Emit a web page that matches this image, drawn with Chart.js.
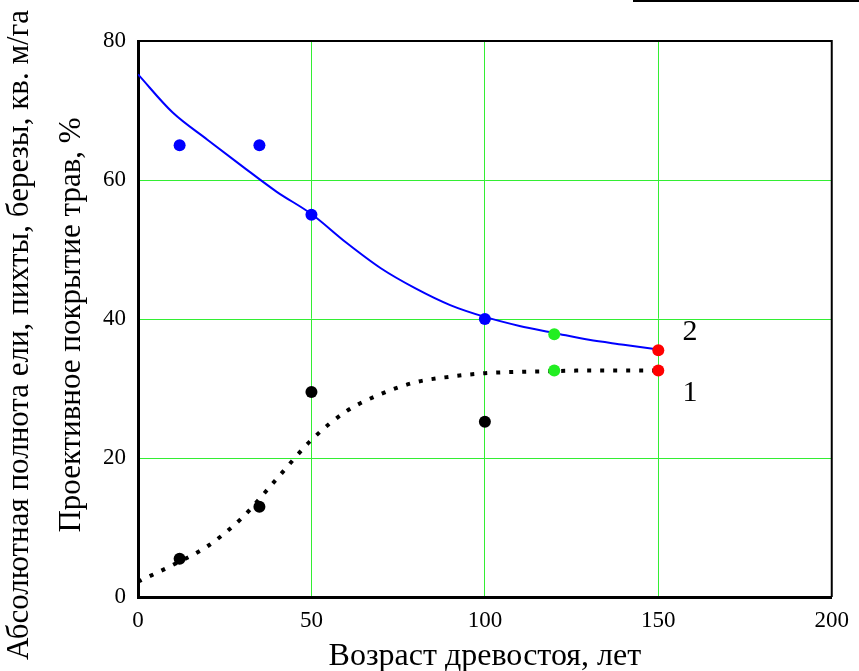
<!DOCTYPE html>
<html>
<head>
<meta charset="utf-8">
<script src="https://cdn.jsdelivr.net/npm/chart.js@4/dist/chart.umd.min.js"></script>
<style>
  html, body { margin: 0; padding: 0; background: #fff; }
  #wrap { width: 859px; height: 671px; position: relative; }
</style>
</head>
<body>
<div id="wrap"><canvas id="chart" width="859" height="671"></canvas></div>
<script>
// chart data
const xTicks = [0, 50, 100, 150, 200];
const yTicks = [0, 20, 40, 60, 80];

// fitted curves (age, value)
const curveAges = [0, 10, 20, 30, 40, 50, 60, 70, 80, 90, 100, 110, 120, 130, 140, 150];
const herbCurve = [75.2, 69.7, 65.8, 62.0, 58.3, 55.1, 51.0, 47.3, 44.4, 42.0, 40.3, 39.0, 38.0, 37.0, 36.3, 35.6];   // 2, blue
const basalCurve = [2.2, 4.6, 7.3, 11.4, 17.0, 22.6, 26.7, 29.2, 30.9, 31.7, 32.2, 32.4, 32.5, 32.6, 32.6, 32.6];    // 1, dotted

// measured points
const blueAges = [12, 35, 50, 100];
const blueValues = [65, 65, 55, 40];
const blackAges = [12, 35, 50, 100];
const blackValues = [5.5, 13, 29.5, 25.2];
const greenAges = [120, 120];
const greenValues = [37.8, 32.6];
const redAges = [150, 150];
const redValues = [35.5, 32.6];

const curveLabels = [
  { text: '2', x: 157, y: 38.1 },
  { text: '1', x: 157, y: 29.4 }
];

const toXY = (xs, ys) => xs.map((x, i) => ({ x: x, y: ys[i] }));

const serif = '"Liberation Serif", "DejaVu Serif", serif';

// draws the frame, the two-line y title and the curve numbers
const extras = {
  id: 'extras',
  afterDraw(chart) {
    const ctx = chart.ctx;
    const a = chart.chartArea;
    const sx = chart.scales.x, sy = chart.scales.y;
    ctx.save();
    ctx.strokeStyle = '#000';
    ctx.lineWidth = 2;
    ctx.beginPath();
    ctx.moveTo(a.left, a.top);
    ctx.lineTo(a.right, a.top);
    ctx.lineTo(a.right, a.bottom);
    ctx.stroke();

    // stray line in the top right corner of the original
    ctx.beginPath();
    ctx.moveTo(633, 1);
    ctx.lineTo(859, 1);
    ctx.stroke();

    ctx.fillStyle = '#000';
    ctx.font = '30px ' + serif;
    ctx.textAlign = 'left';
    ctx.textBaseline = 'middle';
    curveLabels.forEach(l => {
      ctx.fillText(l.text, sx.getPixelForValue(l.x), sy.getPixelForValue(l.y));
    });

    ctx.font = '31px ' + serif;
    ctx.textAlign = 'center';
    ctx.translate(20, 335);
    ctx.rotate(-Math.PI / 2);
    ctx.fillText('Абсолютная полнота ели, пихты, березы, кв. м/га', 0, 0);
    ctx.restore();
    ctx.save();
    ctx.fillStyle = '#000';
    ctx.font = '31px ' + serif;
    ctx.textAlign = 'center';
    ctx.textBaseline = 'middle';
    ctx.translate(72, 325);
    ctx.rotate(-Math.PI / 2);
    ctx.fillText('Проективное покрытие трав, %', 0, 0);
    ctx.restore();
  }
};

const gridColor = (ctx, lo, hi) =>
  (ctx.tick && (ctx.tick.value === lo || ctx.tick.value === hi)) ? 'rgba(0,0,0,0)' : '#33ee33';

new Chart(document.getElementById('chart').getContext('2d'), {
  type: 'scatter',
  data: {
    datasets: [
      {
        data: toXY(redAges, redValues),
        pointRadius: 6, pointBackgroundColor: '#ff0000', pointBorderWidth: 0,
        order: 1
      },
      {
        data: toXY(greenAges, greenValues),
        pointRadius: 6, pointBackgroundColor: '#22ee22', pointBorderWidth: 0,
        order: 1
      },
      {
        data: toXY(blueAges, blueValues),
        pointRadius: 6, pointBackgroundColor: '#0000ff', pointBorderWidth: 0,
        order: 1
      },
      {
        data: toXY(blackAges, blackValues),
        pointRadius: 6, pointBackgroundColor: '#000000', pointBorderWidth: 0,
        order: 1
      },
      {
        data: toXY(curveAges, herbCurve),
        showLine: true, pointRadius: 0, borderColor: '#0000ff', borderWidth: 2,
        cubicInterpolationMode: 'monotone',
        order: 2
      },
      {
        data: toXY(curveAges, basalCurve),
        showLine: true, pointRadius: 0, borderColor: '#000000', borderWidth: 4,
        borderDash: [4, 9], borderCapStyle: 'butt',
        cubicInterpolationMode: 'monotone',
        order: 2
      }
    ]
  },
  options: {
    responsive: false,
    animation: false,
    layout: { padding: { left: 0, right: 23, top: 41, bottom: 0 } },
    plugins: {
      legend: { display: false },
      tooltip: { enabled: false }
    },
    scales: {
      x: {
        min: 0, max: 200,
        afterBuildTicks: s => { s.ticks = xTicks.map(v => ({ value: v })); },
        afterFit: s => { s.height = 74; },
        ticks: { color: '#000', font: { family: serif, size: 23 }, padding: 10, maxRotation: 0 },
        grid: { color: c => gridColor(c, 0, 200), lineWidth: 1, drawTicks: false },
        border: { color: '#000', width: 3 },
        title: {
          display: true, text: 'Возраст древостоя, лет', color: '#000',
          font: { family: serif, size: 32, lineHeight: 0.9 }, padding: { top: 0, bottom: 0 }
        }
      },
      y: {
        min: 0, max: 80,
        afterBuildTicks: s => { s.ticks = yTicks.map(v => ({ value: v })); },
        afterFit: s => { s.width = 138; },
        ticks: { color: '#000', font: { family: serif, size: 23 }, padding: 12 },
        grid: { color: c => gridColor(c, 0, 80), lineWidth: 1, drawTicks: false },
        border: { color: '#000', width: 3 }
      }
    }
  },
  plugins: [extras]
});
</script>
</body>
</html>
